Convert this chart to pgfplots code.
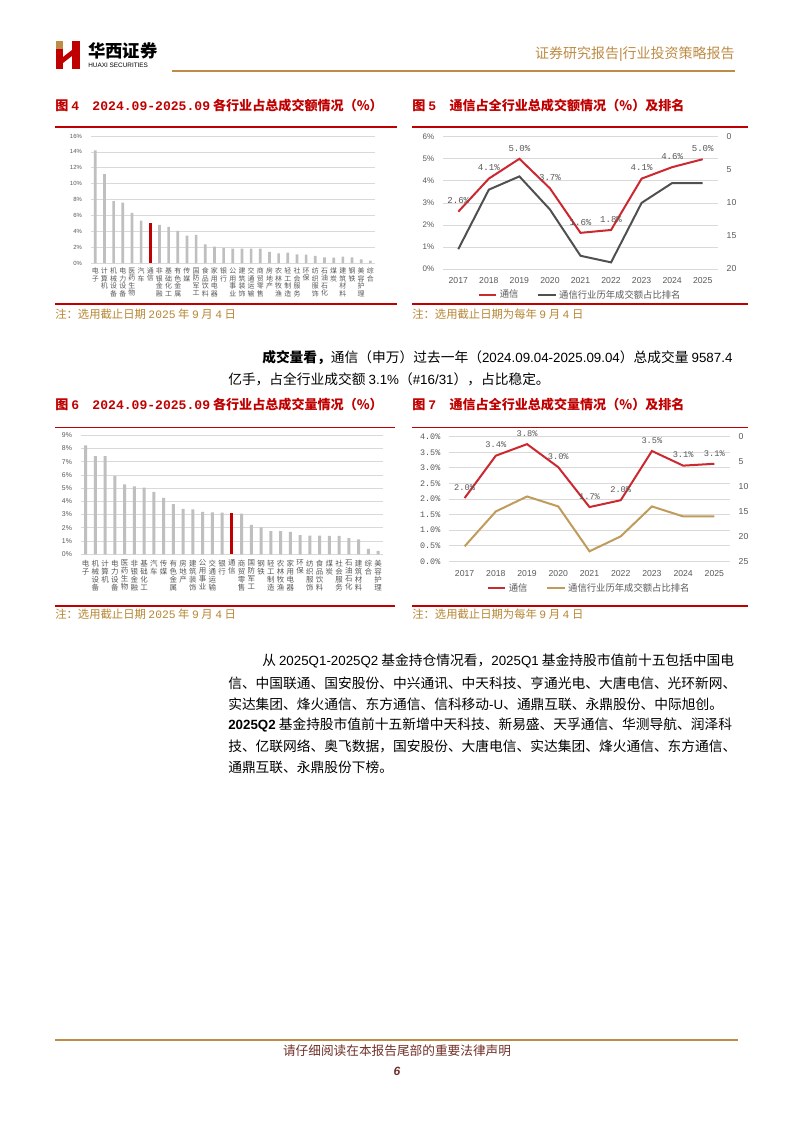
\documentclass[border=0pt]{standalone}
\usepackage{pgfplots}
\pgfplotsset{compat=1.18}
\usepackage{fontspec}
\setmainfont{Noto Sans CJK SC}
\newfontfamily\ar{Liberation Sans}
\newfontfamily\mo{Liberation Mono}
\definecolor{hxred}{RGB}{192,0,0}
\definecolor{linered}{RGB}{204,40,48}
\definecolor{gold}{RGB}{190,140,70}
\definecolor{notec}{RGB}{184,134,52}
\definecolor{barg}{RGB}{191,191,191}
\definecolor{gridc}{RGB}{217,217,217}
\definecolor{rankg}{RGB}{80,80,80}
\definecolor{rankt}{RGB}{192,156,92}
\definecolor{txtg}{RGB}{89,89,89}
\definecolor{footc}{RGB}{112,48,40}

\pgfplotsset{
  pagebars/.style={
    scale only axis,
    axis x line*=bottom, axis y line*=left,
    y axis line style={draw=none}, x axis line style={draw=gridc},
    major tick length=0pt,
    ymajorgrids, major grid style={draw=gridc, line width=0.5pt},
    xmin=-0.5, xmax=30.5, ymin=0,
    xtick={0,...,30},
    /pgf/number format/assume math mode=true,
    yticklabel={\pgfmathprintnumber{\tick}\%},
    xticklabel style={align=center, anchor=north, inner sep=0pt, text=txtg},
    yticklabel style={text=txtg},
  },
  pagelines/.style={
    scale only axis,
    xmin=2016.5, xmax=2025.5,
    xtick={2017,...,2025},
    major tick length=0pt,
    /pgf/number format/assume math mode=true,
    /pgf/number format/1000 sep={},
    tick label style={text=txtg},
  },
}

\begin{document}
\begin{tikzpicture}
\path[use as bounding box, fill=white] (0,0) rectangle (595.5pt,-842.25pt);

\begin{scope}[x=0.75pt,y=-0.75pt]
% header
\fill[gold] (56,41) rectangle (63,49);
\fill[hxred] (56,49) rectangle (63,69);
\fill[hxred] (72,41) rectangle (80,69);
\fill[hxred] (63,57) -- (72,50) -- (72,56) -- (63,63) -- cycle;
\node[anchor=west, inner sep=0pt] at (88,51) {\fontsize{13}{14}\selectfont\bfseries 华西证券};
\node[anchor=west, inner sep=0pt] at (88,65.5) {\ar\fontsize{4.8}{5}\selectfont HUAXI SECURITIES};
\node[anchor=east, inner sep=0pt, text=gold] at (735,54) {\fontsize{10.5}{12}\selectfont 证券研究报告{\ar |}行业投资策略报告};
\draw[gold, line width=1.6pt] (172,71) -- (735,71);

% figure titles and rules
\node[anchor=west, inner sep=0pt, text=hxred] at (55,106) {\fontsize{9.8}{11}\selectfont\bfseries 图 {\mo\bfseries 4}\hspace{10pt}{\mo\bfseries 2024.09-2025.09} 各行业占总成交额情况（\%）};
\node[anchor=west, inner sep=0pt, text=hxred] at (412,106) {\fontsize{9.8}{11}\selectfont\bfseries 图 {\mo\bfseries 5}\hspace{10pt}通信占全行业总成交额情况（\%）及排名};
\draw[hxred, line width=1.3pt] (55,127) -- (397,127);
\draw[hxred, line width=1.3pt] (412,127) -- (748,127);
\draw[hxred, line width=1.3pt] (55,304) -- (397,304);
\draw[hxred, line width=1.3pt] (412,304) -- (748,304);
\node[anchor=west, inner sep=0pt, text=notec] at (55,314) {\fontsize{8.5}{9}\selectfont 注：选用截止日期 {\mo 2025} 年 {\mo 9} 月 {\mo 4} 日};
\node[anchor=west, inner sep=0pt, text=notec] at (412,314) {\fontsize{8.5}{9}\selectfont 注：选用截止日期为每年 {\mo 9} 月 {\mo 4} 日};

\node[anchor=west, inner sep=0pt, text=hxred] at (55,405) {\fontsize{9.8}{11}\selectfont\bfseries 图 {\mo\bfseries 6}\hspace{10pt}{\mo\bfseries 2024.09-2025.09} 各行业占总成交量情况（\%）};
\node[anchor=west, inner sep=0pt, text=hxred] at (412,405) {\fontsize{9.8}{11}\selectfont\bfseries 图 {\mo\bfseries 7}\hspace{10pt}通信占全行业总成交量情况（\%）及排名};
\draw[hxred, line width=1.3pt] (55,427.5) -- (395,427.5);
\draw[hxred, line width=1.3pt] (412,427.5) -- (748,427.5);
\draw[hxred, line width=1.3pt] (55,606) -- (395,606);
\draw[hxred, line width=1.3pt] (412,606) -- (748,606);
\node[anchor=west, inner sep=0pt, text=notec] at (55,614) {\fontsize{8.5}{9}\selectfont 注：选用截止日期 {\mo 2025} 年 {\mo 9} 月 {\mo 4} 日};
\node[anchor=west, inner sep=0pt, text=notec] at (412,614) {\fontsize{8.5}{9}\selectfont 注：选用截止日期为每年 {\mo 9} 月 {\mo 4} 日};

% body text
\begin{scope}[every node/.style={anchor=west, inner sep=0pt, font=\fontsize{10.3}{12}\selectfont}]
\node at (262,358) {\bfseries 成交量看，\mdseries 通信（申万）过去一年（{\ar\fontsize{10}{12}\selectfont 2024.09.04-2025.09.04}）总成交量 {\ar\fontsize{10}{12}\selectfont 9587.4}};
\node at (228,379) {亿手，占全行业成交额 {\ar\fontsize{10}{12}\selectfont 3.1\%}（{\ar\fontsize{10}{12}\selectfont \#16/31}），占比稳定。};
\node at (262,661) {从 {\ar\fontsize{10}{12}\selectfont 2025Q1-2025Q2} 基金持仓情况看，{\ar\fontsize{10}{12}\selectfont 2025Q1} 基金持股市值前十五包括中国电};
\node at (228,683) {信、中国联通、国安股份、中兴通讯、中天科技、亨通光电、大唐电信、光环新网、};
\node at (228,704) {实达集团、烽火通信、东方通信、信科移动{\ar\fontsize{10}{12}\selectfont -U}、通鼎互联、永鼎股份、中际旭创。};
\node at (228,725) {{\ar\bfseries\fontsize{10}{12}\selectfont 2025Q2} 基金持股市值前十五新增中天科技、新易盛、天孚通信、华测导航、润泽科};
\node at (228,746) {技、亿联网络、奥飞数据，国安股份、大唐电信、实达集团、烽火通信、东方通信、};
\node at (228,767) {通鼎互联、永鼎股份下榜。};
\end{scope}

% footer
\draw[gold, line width=1.6pt] (55,1040) -- (738,1040);
\node[inner sep=0pt, text=footc] at (397,1051) {\fontsize{9.5}{11}\selectfont 请仔细阅读在本报告尾部的重要法律声明};
\node[inner sep=0pt, text=footc] at (397,1071) {\ar\fontsize{9}{10}\selectfont\bfseries\itshape 6};
\end{scope}

% Figure 4
\begin{axis}[pagebars,
  at={(68.0pt,-197.25pt)}, anchor=south west,
  width=213.2pt, height=95.25pt,
  ymax=16, ytick={0,2,...,16},
  yticklabel style={font=\ar\fontsize{4.5}{5}\selectfont, xshift=-3pt},
  xticklabel style={font=\fontsize{5.2}{5.6}\selectfont, yshift=-3.5pt},
  xticklabels={{电\\子},{计\\算\\机},{机\\械\\设\\备},{电\\力\\设\\备},{医\\药\\生\\物},{汽\\车},{通\\信},{非\\银\\金\\融},{基\\础\\化\\工},{有\\色\\金\\属},{传\\媒},{国\\防\\军\\工},{食\\品\\饮\\料},{家\\用\\电\\器},{银\\行},{公\\用\\事\\业},{建\\筑\\装\\饰},{交\\通\\运\\输},{商\\贸\\零\\售},{房\\地\\产},{农\\林\\牧\\渔},{轻\\工\\制\\造},{社\\会\\服\\务},{环\\保},{纺\\织\\服\\饰},{石\\油\\石\\化},{煤\\炭},{建\\筑\\材\\料},{钢\\铁},{美\\容\\护\\理},{综\\合}},
]
\addplot[ybar, bar width=2pt, fill=barg, draw=none] coordinates {
  (0,14.2) (1,11.2) (2,7.8) (3,7.6) (4,6.3) (5,5.35) (7,4.8) (8,4.55) (9,4.05)
  (10,3.45) (11,3.55) (12,2.35) (13,2.05) (14,1.9) (15,1.8) (16,1.8) (17,1.8)
  (18,1.8) (19,1.4) (20,1.2) (21,1.3) (22,1.1) (23,1.05) (24,0.9) (25,0.7)
  (26,0.67) (27,0.8) (28,0.7) (29,0.45) (30,0.3)};
\addplot[ybar, bar width=2pt, fill=hxred, draw=none] coordinates {(6,5.0)};
\end{axis}

% Figure 5
\begin{axis}[pagelines,
  at={(332.25pt,-201.75pt)}, anchor=south west,
  width=206.25pt, height=99.2pt,
  ymin=0, ymax=6, ytick={0,...,6},
  axis x line*=bottom, axis y line*=left,
  y axis line style={draw=none}, x axis line style={draw=gridc},
  ymajorgrids, major grid style={draw=gridc, line width=0.5pt},
  yticklabel={\pgfmathprintnumber{\tick}\%},
  yticklabel style={font=\ar\fontsize{6}{7}\selectfont, xshift=-3pt},
  xticklabel style={font=\ar\fontsize{6.5}{7}\selectfont, yshift=-3pt},
  nodes near coords={\pgfmathprintnumber[fixed,fixed zerofill,precision=1]{\pgfplotspointmeta}\%},
  every node near coord/.append style={font=\mo\fontsize{6.8}{7}\selectfont, text=txtg, anchor=south, inner sep=0pt, yshift=5pt},
]
\addplot[linered, line width=1.5pt] coordinates {
  (2017,2.6) (2018,4.1) (2019,5.0) (2020,3.66) (2021,1.64) (2022,1.77) (2023,4.1) (2024,4.62) (2025,4.98)};
\end{axis}
\begin{axis}[pagelines,
  at={(332.25pt,-201.75pt)}, anchor=south west,
  width=206.25pt, height=99.2pt,
  ymin=0, ymax=20, ytick={0,5,...,20}, y dir=reverse,
  axis y line*=right, hide x axis,
  y axis line style={draw=none},
  yticklabel style={font=\ar\fontsize{6.5}{7}\selectfont, xshift=3pt},
  legend style={at={(0.5,-0.197)}, anchor=center, draw=none, fill=none,
    legend columns=2, font=\fontsize{7}{8}\selectfont, text=txtg,
    /tikz/every even column/.append style={column sep=12pt}},
  legend image code/.code={\draw[#1] (0pt,0pt) -- (13pt,0pt);},
]
\addlegendimage{linered, line width=1.5pt}
\addlegendentry{通信}
\addplot[rankg, line width=1.5pt] coordinates {
  (2017,17) (2018,8) (2019,6) (2020,11) (2021,18) (2022,19) (2023,10) (2024,7) (2025,7)};
\addlegendentry{通信行业历年成交额占比排名}
\end{axis}

% Figure 6
\begin{axis}[pagebars,
  at={(60.5pt,-415.7pt)}, anchor=south west,
  width=226.7pt, height=89.25pt,
  ymax=9, ytick={0,...,9},
  yticklabel style={font=\ar\fontsize{5.2}{6}\selectfont, xshift=-3pt},
  xticklabel style={font=\fontsize{5.6}{6}\selectfont, yshift=-4pt},
  xticklabels={{电\\子},{机\\械\\设\\备},{计\\算\\机},{电\\力\\设\\备},{医\\药\\生\\物},{非\\银\\金\\融},{基\\础\\化\\工},{汽\\车},{传\\媒},{有\\色\\金\\属},{房\\地\\产},{建\\筑\\装\\饰},{公\\用\\事\\业},{交\\通\\运\\输},{银\\行},{通\\信},{商\\贸\\零\\售},{国\\防\\军\\工},{钢\\铁},{轻\\工\\制\\造},{农\\林\\牧\\渔},{家\\用\\电\\器},{环\\保},{纺\\织\\服\\饰},{食\\品\\饮\\料},{煤\\炭},{社\\会\\服\\务},{石\\油\\石\\化},{建\\筑\\材\\料},{综\\合},{美\\容\\护\\理}},
]
\addplot[ybar, bar width=2.3pt, fill=barg, draw=none] coordinates {
  (0,8.24) (1,7.43) (2,7.43) (3,5.92) (4,5.29) (5,5.14) (6,5.04) (7,4.71) (8,4.26)
  (9,3.80) (10,3.43) (11,3.40) (12,3.20) (13,3.17) (14,3.15) (16,3.07) (17,2.22)
  (18,2.04) (19,1.76) (20,1.76) (21,1.69) (22,1.44) (23,1.41) (24,1.41) (25,1.39)
  (26,1.39) (27,1.23) (28,1.13) (29,0.40) (30,0.25)};
\addplot[ybar, bar width=2.3pt, fill=hxred, draw=none] coordinates {(15,3.10)};
\end{axis}

% Figure 7
\begin{axis}[pagelines,
  at={(336.75pt,-420.95pt)}, anchor=south west,
  width=210.75pt, height=93.45pt,
  ymin=0, ymax=4, ytick={0,0.5,...,4},
  axis x line*=bottom, axis y line*=left,
  y axis line style={draw=none}, x axis line style={draw=gridc},
  ymajorgrids, major grid style={draw=gridc, line width=0.5pt},
  yticklabel={\pgfmathprintnumber[fixed,fixed zerofill,precision=1]{\tick}\%},
  yticklabel style={font=\mo\fontsize{6.3}{7}\selectfont, xshift=-3pt},
  xticklabel style={font=\ar\fontsize{6.5}{7}\selectfont, yshift=-3.5pt},
  nodes near coords={\pgfmathprintnumber[fixed,fixed zerofill,precision=1]{\pgfplotspointmeta}\%},
  every node near coord/.append style={font=\mo\fontsize{6.5}{7}\selectfont, text=txtg, anchor=south, inner sep=0pt, yshift=5pt},
]
\addplot[linered, line width=1.5pt] coordinates {
  (2017,2.03) (2018,3.39) (2019,3.76) (2020,3.02) (2021,1.74) (2022,1.96) (2023,3.54) (2024,3.07) (2025,3.13)};
\end{axis}
\begin{axis}[pagelines,
  at={(336.75pt,-420.95pt)}, anchor=south west,
  width=210.75pt, height=93.45pt,
  ymin=0, ymax=25, ytick={0,5,...,25}, y dir=reverse,
  axis y line*=right, hide x axis,
  y axis line style={draw=none},
  yticklabel style={font=\ar\fontsize{6.5}{7}\selectfont, xshift=3pt},
  legend style={at={(0.5,-0.218)}, anchor=center, draw=none, fill=none,
    legend columns=2, font=\fontsize{7}{8}\selectfont, text=txtg,
    /tikz/every even column/.append style={column sep=12pt}},
  legend image code/.code={\draw[#1] (0pt,0pt) -- (13pt,0pt);},
]
\addlegendimage{linered, line width=1.5pt}
\addlegendentry{通信}
\addplot[rankt, line width=1.5pt] coordinates {
  (2017,22) (2018,15) (2019,12) (2020,14) (2021,23) (2022,20) (2023,14) (2024,16) (2025,16)};
\addlegendentry{通信行业历年成交额占比排名}
\end{axis}
\end{tikzpicture}
\end{document}
